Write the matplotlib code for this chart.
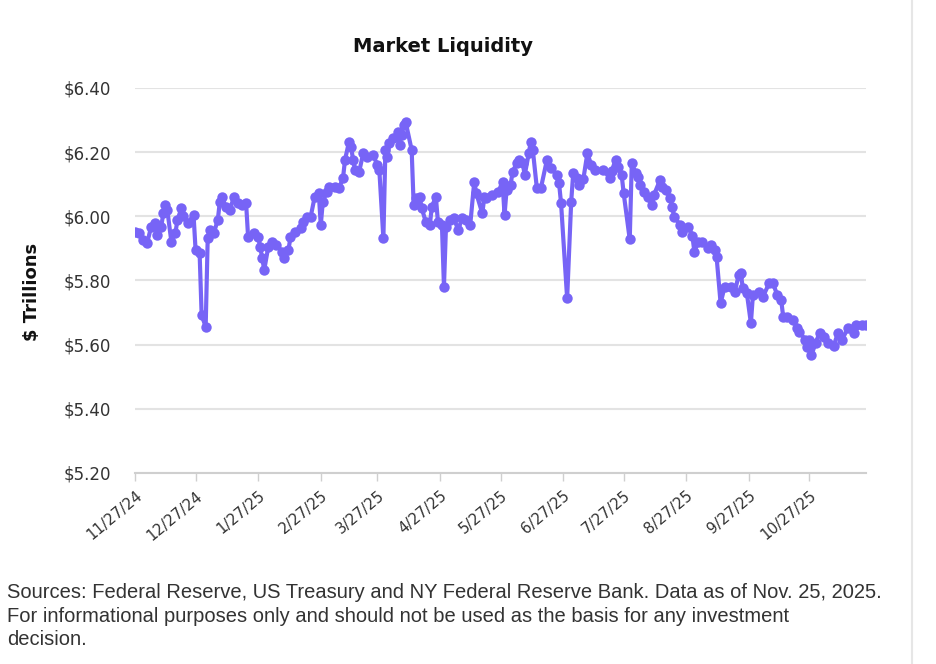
import matplotlib
matplotlib.use("Agg")
import matplotlib.pyplot as plt
from matplotlib.lines import Line2D
import pandas as pd

# ---- data ----
start_date = "2024-11-27"
day_offsets = [0, 2, 4, 6, 8, 10, 11, 13, 14, 15, 16, 18, 20, 21, 23, 24, 26, 29, 30, 32,
               33, 35, 36, 37, 39, 41, 42, 43, 45, 47, 49, 51, 53, 55, 56, 59, 61, 62, 63, 64,
               66, 68, 70, 73, 74, 76, 77, 79, 82, 83, 85, 87, 89, 91, 92, 93, 95, 96, 99, 101,
               103, 104, 106, 107, 108, 109, 111, 113, 115, 118, 120, 121, 123, 124, 125, 126, 128, 130, 131, 132,
               133, 134, 137, 138, 139, 141, 142, 144, 146, 147, 149, 150, 152, 153, 154, 156, 158, 160, 162, 164,
               166, 168, 169, 172, 173, 174, 177, 180, 182, 183, 184, 186, 187, 189, 190, 192, 193, 195, 196, 197,
               199, 201, 204, 206, 209, 210, 211, 214, 216, 217, 219, 220, 222, 224, 226, 228, 232, 235, 236, 238,
               239, 241, 242, 245, 246, 248, 249, 250, 252, 254, 256, 257, 260, 261, 263, 265, 266, 267, 270, 271,
               274, 276, 277, 279, 281, 284, 285, 287, 288, 290, 292, 295, 297, 299, 300, 301, 303, 305, 306, 309,
               311, 314, 316, 318, 320, 321, 323, 326, 328, 329, 332, 333, 334, 335, 337, 339, 341, 343, 346, 348,
               350, 353, 356, 357, 360, 362]
liquidity = [5.952, 5.949, 5.926, 5.916, 5.968, 5.978, 5.942, 5.968, 6.009, 6.035, 6.020, 5.921, 5.947, 5.989, 6.025, 6.000, 5.978, 6.004, 5.895, 5.885,
             5.692, 5.656, 5.931, 5.957, 5.947, 5.989, 6.045, 6.061, 6.030, 6.020, 6.061, 6.041, 6.035, 6.043, 5.936, 5.947, 5.936, 5.905, 5.869, 5.833,
             5.905, 5.921, 5.911, 5.890, 5.869, 5.895, 5.936, 5.952, 5.963, 5.983, 5.999, 5.999, 6.061, 6.072, 5.973, 6.045, 6.077, 6.092, 6.092, 6.088,
             6.119, 6.176, 6.233, 6.217, 6.176, 6.144, 6.139, 6.196, 6.186, 6.191, 6.160, 6.144, 5.931, 6.207, 6.186, 6.228, 6.243, 6.264, 6.222, 6.254,
             6.285, 6.295, 6.207, 6.035, 6.056, 6.061, 6.025, 5.983, 5.973, 6.030, 6.061, 5.983, 5.973, 5.781, 5.968, 5.989, 5.994, 5.957, 5.994, 5.990,
             5.973, 6.108, 6.072, 6.009, 6.061, 6.056, 6.067, 6.077, 6.108, 6.004, 6.082, 6.098, 6.139, 6.165, 6.176, 6.165, 6.129, 6.196, 6.233, 6.207,
             6.088, 6.088, 6.176, 6.150, 6.129, 6.103, 6.040, 5.744, 6.045, 6.134, 6.120, 6.098, 6.115, 6.196, 6.160, 6.144, 6.144, 6.120, 6.140, 6.176,
             6.155, 6.129, 6.072, 5.928, 6.165, 6.134, 6.124, 6.098, 6.077, 6.061, 6.035, 6.067, 6.113, 6.092, 6.082, 6.056, 6.030, 5.999, 5.973, 5.952,
             5.968, 5.940, 5.890, 5.921, 5.921, 5.900, 5.911, 5.895, 5.874, 5.729, 5.781, 5.781, 5.765, 5.817, 5.822, 5.776, 5.760, 5.667, 5.755, 5.765,
             5.750, 5.791, 5.791, 5.755, 5.739, 5.687, 5.687, 5.677, 5.651, 5.641, 5.614, 5.594, 5.614, 5.568, 5.604, 5.637, 5.625, 5.604, 5.596, 5.635,
             5.614, 5.651, 5.635, 5.661, 5.661, 5.661]
tick_dates = ["2024-11-27", "2024-12-27", "2025-01-27", "2025-02-27", "2025-03-27", "2025-04-27",
              "2025-05-27", "2025-06-27", "2025-07-27", "2025-08-27", "2025-09-27", "2025-10-27"]
tick_labels = ["11/27/24", "12/27/24", "1/27/25", "2/27/25", "3/27/25", "4/27/25",
               "5/27/25", "6/27/25", "7/27/25", "8/27/25", "9/27/25", "10/27/25"]
y_ticks = [5.20, 5.40, 5.60, 5.80, 6.00, 6.20, 6.40]
title = "Market Liquidity"
y_label = "$ Trillions"
footnote = ("Sources: Federal Reserve, US Treasury and NY Federal Reserve Bank. Data as of Nov. 25, 2025.\n"
            "For informational purposes only and should not be used as the basis for any investment\n"
            "decision.")

dates = pd.Timestamp(start_date) + pd.to_timedelta(day_offsets, unit="D")

plt.rcParams['font.family'] = ['DejaVu Sans']

fig = plt.figure(figsize=(9.36, 6.64), dpi=100)
ax = fig.add_axes([135/936, 1-473/664, (866-135)/936, (473-88)/664])

line_color = "#7764F6"
ax.plot(dates, liquidity, color=line_color, lw=3.0, marker="o", ms=7.5,
        markeredgewidth=0, solid_joinstyle="round", zorder=3)

ax.set_ylim(5.20, 6.40)
ax.set_yticks(y_ticks)
ax.set_yticklabels([f"${v:.2f}" for v in y_ticks], fontsize=12, color="#333333")
ax.set_xlim(pd.Timestamp(start_date), pd.Timestamp(start_date) + pd.Timedelta(days=362))
ax.set_xticks(pd.to_datetime(tick_dates))
ax.set_xticklabels(tick_labels, rotation=40, ha="right", rotation_mode="anchor",
                   fontsize=10.8, color="#333333")

ax.grid(axis="y", color="#e3e3e3", lw=1.5)
ax.set_axisbelow(True)
for s in ["top", "right", "left"]:
    ax.spines[s].set_visible(False)
ax.spines["bottom"].set_color("#cfcfcf")
ax.spines["bottom"].set_linewidth(1.5)
ax.tick_params(axis="y", length=0, pad=17)
ax.tick_params(axis="x", length=6, color="#cfcfcf", width=1, pad=5)

fig.text(443/936, 1-46/664, title, ha="center", va="center", fontsize=14, fontweight="bold", color="#111111")
fig.text(32/936, 1-292/664, y_label, ha="center", va="center", rotation=90, fontsize=13,
         fontweight="bold", color="#111111")
fig.text(7/936, 1-583/664, footnote, ha="left", va="top", fontsize=14.5, color="#333333",
         linespacing=1.3, family=["Liberation Sans", "DejaVu Sans"])

fig.add_artist(Line2D([912/936, 912/936], [0, 1], color="#e6e6e6", lw=1.5))

fig.savefig("out.png", dpi=100, facecolor="white")
